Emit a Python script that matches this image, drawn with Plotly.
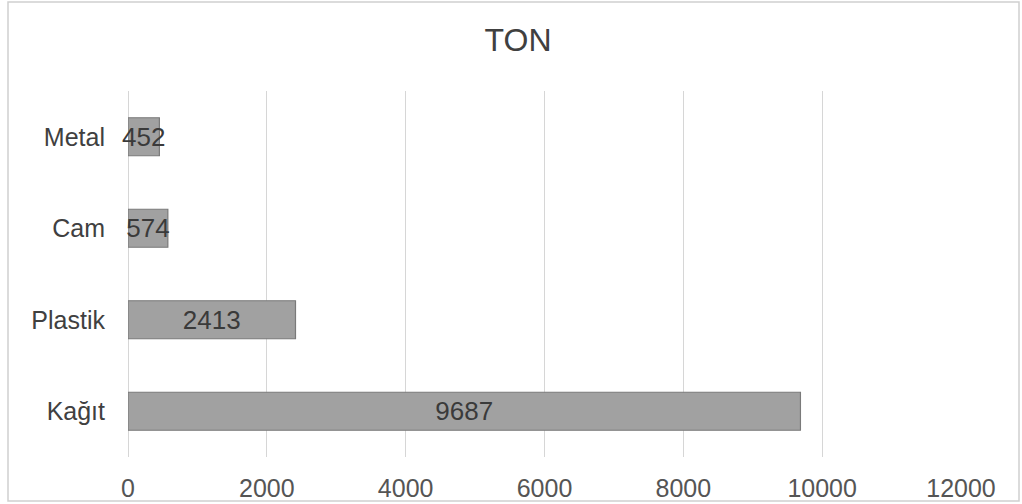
import plotly.graph_objects as go

# Recycled material amounts (tons)
categories = ["Kağıt", "Plastik", "Cam", "Metal"]
tons = [9687, 2413, 574, 452]
tick_values = [0, 2000, 4000, 6000, 8000, 10000, 12000]
tick_labels = ["0", "2000", "4000", "6000", "8000", "10000", "12000"]

FONT = "Liberation Sans, Arial, sans-serif"

fig = go.Figure(
    go.Bar(
        x=tons,
        y=categories,
        orientation="h",
        width=0.415,
        marker=dict(color="#a1a1a1", line=dict(color="#7a7a7a", width=1.2)),
        text=[str(v) for v in tons],
        textposition="inside",
        insidetextanchor="middle",
        constraintext="none",
        textangle=0,
        cliponaxis=False,
        textfont=dict(family=FONT, size=26, color="#3a3a3a"),
        hoverinfo="skip",
    )
)

L, R, T, B = 128, 61, 91, 47
W, H = 1022, 504
pw, ph = W - L - R, H - T - B

fig.update_layout(
    width=W,
    height=H,
    margin=dict(l=L, r=R, t=T, b=B, autoexpand=False),
    paper_bgcolor="white",
    plot_bgcolor="white",
    showlegend=False,
    title=dict(
        text="TON",
        x=518 / W,
        xanchor="center",
        y=1 - 40 / H,
        yanchor="middle",
        font=dict(family=FONT, size=32, color="#404040"),
    ),
    font=dict(family=FONT),
)

fig.update_xaxes(
    range=[0, 12000],
    tickvals=tick_values,
    ticktext=tick_labels,
    automargin=False,
    showgrid=True,
    gridcolor="#d6d6d6",
    gridwidth=1,
    zeroline=True,
    zerolinecolor="#d6d6d6",
    zerolinewidth=1,
    showline=False,
    ticks="",
    ticklabelstandoff=14,
    tickfont=dict(family=FONT, size=25, color="#555555"),
)

fig.update_yaxes(
    automargin=False,
    showgrid=False,
    zeroline=False,
    showline=False,
    ticks="",
    ticklabelstandoff=22,
    tickfont=dict(family=FONT, size=25, color="#404040"),
)

# Light frame around the whole chart
fig.add_shape(
    type="rect",
    xref="paper",
    yref="paper",
    x0=(8 - L) / pw,
    x1=(1019 - L) / pw,
    y0=-(501 - (H - B)) / ph,
    y1=1 + (T - 2) / ph,
    line=dict(color="#d0d0d0", width=1.5),
    fillcolor="rgba(0,0,0,0)",
    layer="below",
)

fig.write_html("out.html")
